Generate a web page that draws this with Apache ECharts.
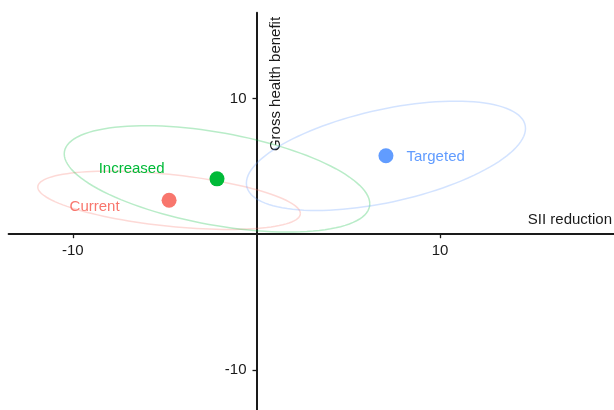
<!DOCTYPE html>
<html>
<head>
<meta charset="utf-8">
<script src="https://cdn.jsdelivr.net/npm/echarts@6/dist/echarts.min.js"></script>
<style>
  html, body { margin: 0; padding: 0; background: #fff; }
  #chart { width: 614px; height: 410px; }
</style>
</head>
<body>
<div id="chart"></div>
<script>
// Policy scenarios: mean SII reduction vs gross health benefit
const groups = ['Current', 'Increased', 'Targeted'];
const siiReduction = [-4.76, -2.15, 7.05];
const healthBenefit = [2.5, 4.08, 5.78];

// Uncertainty ellipses: half-extent along each axis and phase (deg) of the y cycle
const siiHalfRange = [7.15, 8.32, 7.6];
const benefitHalfRange = [2.15, 3.92, 4.03];
const ellipsePhase = [117, 118, 60];

// Axis ticks
const xTickValues = [-10, 10];
const yTickValues = [-10, 10];
const xTickLabels = ['-10', '10'];
const yTickLabels = ['-10', '10'];

const palette = ['#F8766D', '#00BA38', '#619CFF'];
const FONT = "'Liberation Sans', Arial, Helvetica, sans-serif";
const INK = '#1a1a1a';

// Label placement relative to each point (pixels)
const labelPlacement = [
  { position: 'left', distance: 42, offset: [0, 7] },
  { position: 'left', distance: 45, offset: [0, -10] },
  { position: 'right', distance: 13, offset: [0, 1] }
];

const chart = echarts.init(document.getElementById('chart'), null, { renderer: 'canvas' });

const ellipseData = groups.map((g, i) => [
  siiReduction[i], healthBenefit[i], siiHalfRange[i], benefitHalfRange[i], ellipsePhase[i], i
]);

function renderEllipse(params, api) {
  const cx = api.value(0), cy = api.value(1);
  const rx = api.value(2), ry = api.value(3);
  const ph = api.value(4) * Math.PI / 180;
  const idx = api.value(5);
  const pts = [];
  const N = 120;
  for (let k = 0; k <= N; k++) {
    const t = (k / N) * Math.PI * 2;
    pts.push(api.coord([cx + rx * Math.cos(t), cy + ry * Math.cos(t - ph)]));
  }
  return {
    type: 'polyline',
    shape: { points: pts },
    style: { stroke: palette[idx], lineWidth: 1.5, fill: null, opacity: 0.28 },
    silent: true
  };
}

const axisCommon = {
  type: 'value',
  splitLine: { show: false },
  axisLine: { onZero: true, lineStyle: { color: '#1a1a1a', width: 2 } },
  axisTick: { inside: false, length: 4, lineStyle: { color: '#1a1a1a', width: 1.3 } },
  axisLabel: { show: false }
};

const option = {
  animation: false,
  backgroundColor: '#fff',
  grid: { left: 8.6, right: 0, top: 12.7, bottom: 0, containLabel: false, outerBoundsMode: 'none' },
  xAxis: Object.assign({}, axisCommon, {
    min: -13.5, max: 19.47,
    axisTick: Object.assign({}, axisCommon.axisTick, { customValues: xTickValues })
  }),
  yAxis: Object.assign({}, axisCommon, {
    min: -12.96, max: 16.33,
    axisTick: Object.assign({}, axisCommon.axisTick, { customValues: yTickValues })
  }),
  series: [
    {
      type: 'custom',
      renderItem: renderEllipse,
      data: ellipseData,
      z: 1,
      silent: true
    },
    {
      type: 'scatter',
      symbol: 'circle',
      symbolSize: 15,
      z: 3,
      data: groups.map((g, i) => ({
        name: g,
        value: [siiReduction[i], healthBenefit[i]],
        itemStyle: { color: palette[i], opacity: 1 },
        label: {
          show: true,
          formatter: g,
          position: labelPlacement[i].position,
          distance: labelPlacement[i].distance,
          offset: labelPlacement[i].offset,
          color: palette[i],
          fontSize: 15,
          fontFamily: FONT
        }
      }))
    }
  ]
};

chart.setOption(option);

// Tick labels sit beside the axes, which cross at the origin
const graphics = [];
xTickValues.forEach((v, i) => {
  const p = chart.convertToPixel({ gridIndex: 0 }, [v, 0]);
  graphics.push({
    type: 'text', x: p[0], y: p[1] + 9,
    style: { text: xTickLabels[i], fontSize: 15, fontFamily: FONT, fill: INK, align: 'center', verticalAlign: 'top' }
  });
});
yTickValues.forEach((v, i) => {
  const p = chart.convertToPixel({ gridIndex: 0 }, [0, v]);
  graphics.push({
    type: 'text', x: p[0] - 10, y: p[1],
    style: { text: yTickLabels[i], fontSize: 15, fontFamily: FONT, fill: INK, align: 'right', verticalAlign: 'middle' }
  });
});
// Axis titles
graphics.push({
  type: 'text', x: 612, y: 227,
  style: { text: 'SII reduction', fontSize: 15, fontFamily: FONT, fill: INK, align: 'right', verticalAlign: 'bottom' }
});
graphics.push({
  type: 'text', x: 276, y: 84, rotation: Math.PI / 2,
  style: { text: 'Gross health benefit', fontSize: 15, fontFamily: FONT, fill: INK, align: 'center', verticalAlign: 'middle' }
});
chart.setOption({ graphic: graphics });
</script>
</body>
</html>
